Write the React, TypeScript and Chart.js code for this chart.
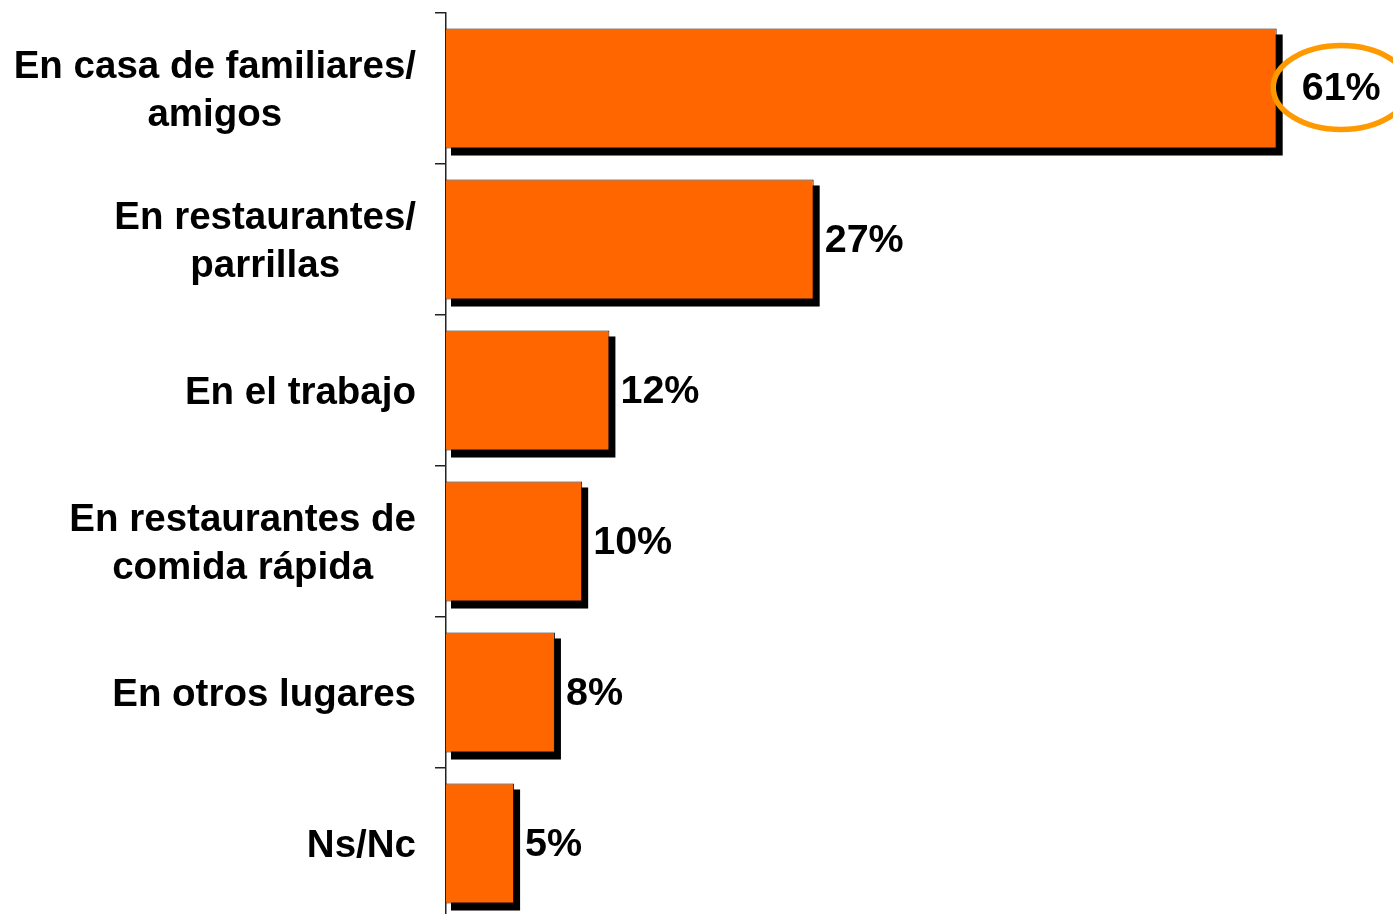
import React, { useEffect, useRef } from "react";
import { Chart, registerables } from "chart.js";

Chart.register(...registerables);

const categories: string[][] = [
  ["En casa de familiares/", "amigos"],
  ["En restaurantes/", "parrillas"],
  ["En el trabajo"],
  ["En restaurantes de", "comida rápida"],
  ["En otros lugares"],
  ["Ns/Nc"],
];
const values: number[] = [61, 27, 12, 10, 8, 5];
const valueLabels: string[] = ["61%", "27%", "12%", "10%", "8%", "5%"];
const highlightedIndex = 0;

const LABEL_FONT = 'bold 38.5px "Liberation Sans", Arial, sans-serif';
const VALUE_FONT = 'bold 39.5px "Liberation Sans", Arial, sans-serif';

const decorPlugin = {
  id: "decor",
  beforeDatasetsDraw(chart: any) {
    const ctx = chart.ctx;
    const meta = chart.getDatasetMeta(0);
    ctx.save();
    ctx.fillStyle = "#000000";
    meta.data.forEach((bar: any) => {
      const p = bar.getProps(["x", "y", "base", "height"], true);
      const left = Math.min(p.base, p.x);
      const right = Math.max(p.base, p.x);
      const top = p.y - p.height / 2;
      const bottom = p.y + p.height / 2;
      ctx.fillRect(left + 5, top + 6, right + 6 - (left + 5), bottom + 7 - (top + 6));
    });
    ctx.restore();
  },
  afterDatasetsDraw(chart: any) {
    const ctx = chart.ctx;
    const meta = chart.getDatasetMeta(0);
    ctx.save();
    ctx.font = VALUE_FONT;
    ctx.fillStyle = "#000000";
    ctx.textBaseline = "middle";
    ctx.textAlign = "left";
    meta.data.forEach((bar: any, i: number) => {
      const p = bar.getProps(["x", "y"], true);
      const text = valueLabels[i];
      if (i === highlightedIndex) {
        const tx = p.x + 25;
        const tw = ctx.measureText(text).width;
        const cx = tx + tw / 2;
        ctx.save();
        ctx.strokeStyle = "#FF9900";
        ctx.lineWidth = 5.5;
        ctx.beginPath();
        ctx.ellipse(cx, p.y - 1, 68, 42, 0, 0, Math.PI * 2);
        ctx.stroke();
        ctx.restore();
        ctx.fillText(text, tx, p.y + 1);
      } else {
        ctx.fillText(text, p.x + 11, p.y + 2);
      }
    });
    ctx.restore();
  },
  afterDraw(chart: any) {
    const ctx = chart.ctx;
    const yScale = chart.scales.y;
    ctx.save();
    ctx.font = LABEL_FONT;
    ctx.fillStyle = "#000000";
    ctx.textBaseline = "middle";
    ctx.textAlign = "center";
    const rightEdge = yScale.right - 30;
    categories.forEach((lines, i) => {
      const y = yScale.getPixelForValue(i);
      const maxW = Math.max(...lines.map((l) => ctx.measureText(l).width));
      const cx = rightEdge - maxW / 2;
      const n = lines.length;
      lines.forEach((line, j) => {
        ctx.fillText(line, cx, y + (j - (n - 1) / 2) * 48 + 2.5);
      });
    });
    ctx.restore();
  },
};

export default function App() {
  const canvasRef = useRef<HTMLCanvasElement | null>(null);

  useEffect(() => {
    const canvas = canvasRef.current;
    if (!canvas) return;
    const chart = new Chart(canvas, {
      type: "bar",
      data: {
        labels: categories,
        datasets: [
          {
            data: values,
            backgroundColor: "#FF6600",
            borderColor: "#111111",
            borderWidth: 1,
            barPercentage: 0.795,
            categoryPercentage: 1,
          },
        ],
      },
      options: {
        indexAxis: "y",
        responsive: false,
        animation: false,
        layout: { padding: { top: 13, bottom: 11, left: 0, right: 21 } },
        plugins: {
          legend: { display: false },
          tooltip: { enabled: false },
        },
        scales: {
          x: {
            display: false,
            min: 0,
            max: 68,
          },
          y: {
            offset: true,
            ticks: { display: false },
            grid: {
              offset: true,
              drawOnChartArea: false,
              drawTicks: true,
              tickLength: 11,
              color: "#222222",
              lineWidth: 1.5,
            },
            border: { display: true, color: "#222222", width: 1.5 },
            afterFit(scale: any) {
              scale.width = 446;
            },
          },
        },
      },
      plugins: [decorPlugin],
    } as any);
    return () => chart.destroy();
  }, []);

  return (
    <div
      style={{
        position: "fixed",
        top: 0,
        left: 0,
        width: 1393,
        height: 914,
        overflow: "hidden",
        background: "#ffffff",
      }}
    >
      <canvas ref={canvasRef} width={1393} height={930} style={{ display: "block" }} />
    </div>
  );
}
